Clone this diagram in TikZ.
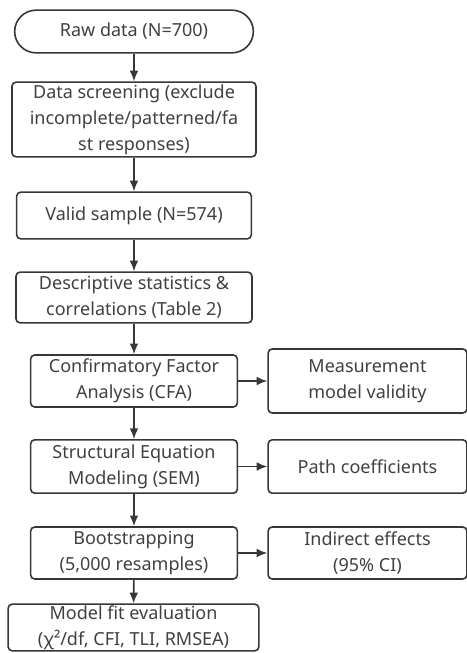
\documentclass[tikz,border=0pt]{standalone}
\usepackage{fontspec}
\setmainfont{Noto Sans}
\usetikzlibrary{arrows.meta}
\definecolor{linegray}{RGB}{55,55,55}
\definecolor{textgray}{RGB}{64,64,64}
\begin{document}
\begin{tikzpicture}[x=0.75pt, y=-0.75pt,
		>={Latex[length=8pt,width=6.5pt]},   % arrow tips
		box/.style={draw=linegray, line width=1.2pt, rounded corners=3pt, align=center,
			text=textgray, inner sep=0pt, font=\fontsize{13.5}{19.5}\selectfont},
		flow/.style={->, draw=linegray, line width=1.2pt}]
		% frame of the page
		\useasboundingbox (0,0) rectangle (467,653);
		% main column
		\node[box, rounded corners=16pt, minimum width=179pt, minimum height=32pt] (raw) at (134,31.5) {Raw data (N=700)};
		\node[box, minimum width=183pt, minimum height=56pt] (screen) at (134,119.5) {Data screening (exclude\\incomplete/patterned/fa\\st responses)};
		\node[box, minimum width=176pt, minimum height=35pt] (valid) at (134,215.5) {Valid sample (N=574)};
		\node[box, minimum width=177pt, minimum height=38pt] (desc) at (134,297.5) {Descriptive statistics \&\\correlations (Table 2)};
		\node[box, minimum width=155pt, minimum height=39pt] (cfa) at (134,381) {Confirmatory Factor\\Analysis (CFA)};
		\node[box, minimum width=155pt, minimum height=40pt] (sem) at (134,466.5) {Structural Equation\\Modeling (SEM)};
		\node[box, minimum width=155pt, minimum height=39pt] (boot) at (134,553) {Bootstrapping\\(5,000 resamples)};
		\node[box, minimum width=188pt, minimum height=35pt] (fit) at (133.5,627.5) {Model fit evaluation\\(χ²/df, CFI, TLI, RMSEA)};
		% results on the right
		\node[box, minimum width=149pt, minimum height=48pt] (meas) at (367.5,381) {Measurement\\model validity};
		\node[box, minimum width=149pt, minimum height=40pt] (path) at (367.5,466.5) {Path coefficients};
		\node[box, minimum width=149pt, minimum height=39pt] (indir) at (367.5,553) {Indirect effects\\(95\% CI)};
		% arrows
		\draw[flow] (raw) -- (screen);
		\draw[flow] (screen) -- (valid);
		\draw[flow] (valid) -- (desc);
		\draw[flow] (desc) -- (cfa);
		\draw[flow] (cfa) -- (sem);
		\draw[flow] (sem) -- (boot);
		\draw[flow] (boot) -- (fit);
		\draw[flow] (cfa) -- (meas);
		\draw[flow] (sem) -- (path);
		\draw[flow] (boot) -- (indir);
	\end{tikzpicture}
\end{document}
